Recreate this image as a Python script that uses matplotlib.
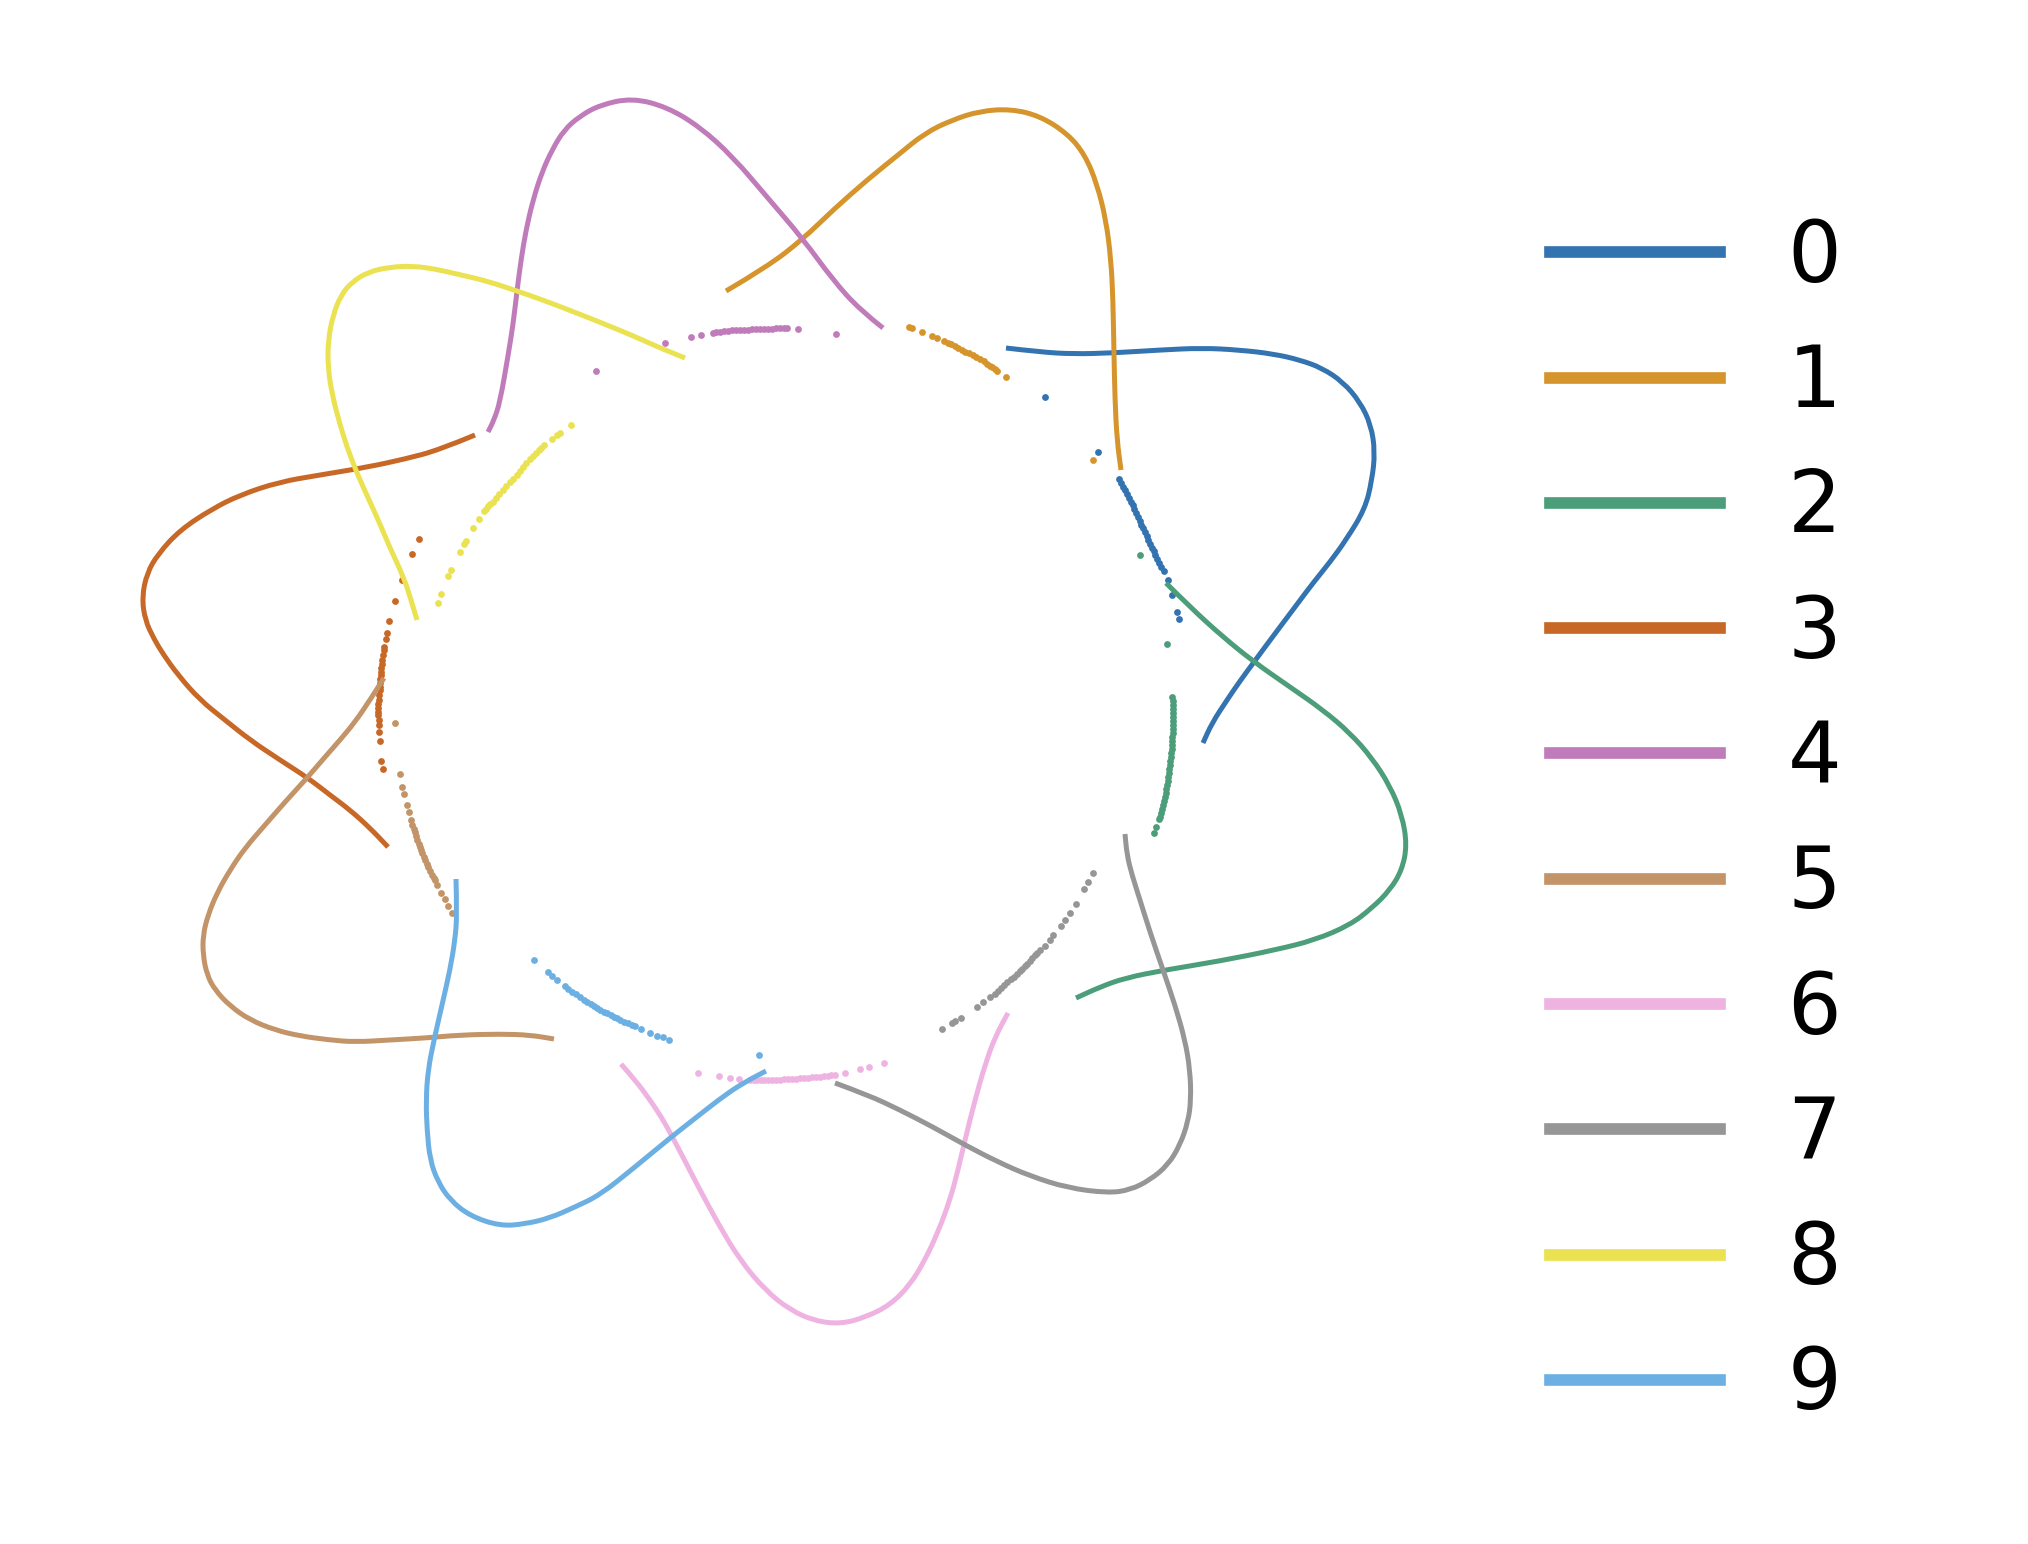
import matplotlib.pyplot as plt
import numpy as np
from matplotlib.path import Path
from matplotlib.patches import PathPatch
from matplotlib.lines import Line2D

# Values (embedding coordinates, image-like y axis)
labels = ["0", "1", "2", "3", "4", "5", "6", "7", "8", "9"]
colors = ["#3373b0", "#d5952c", "#4c9e7a", "#c76826", "#c07cba",
          "#c29468", "#efb3e2", "#969696", "#eae250", "#6cb0e3"]

# trajectory of each class (outer loop)
traj_0 = [(1006, 348), (1040, 352), (1073, 354), (1112, 353), (1160, 350), (1202, 348),
          (1240, 350), (1274, 354), (1300, 360), (1322, 368), (1343, 382), (1360, 402),
          (1371, 425), (1375, 452), (1372, 480), (1365, 509), (1346, 540), (1330, 562),
          (1313, 583), (1298, 603), (1283, 623), (1268, 643), (1254, 662), (1240, 681),
          (1227, 700), (1212, 723), (1203, 743)]
traj_1 = [(726, 291), (767, 267), (803, 239), (833, 210), (867, 180), (898, 155), (925, 133),
          (952, 120), (980, 111), (1011, 109), (1040, 116), (1068, 134), (1085, 155),
          (1097, 184), (1106, 220), (1111, 260), (1113, 300), (1114, 356), (1115, 400),
          (1117, 440), (1121, 470)]
traj_2 = [(1166, 583), (1190, 607), (1223, 637), (1254, 662), (1290, 687), (1323, 710),
          (1350, 733), (1372, 758), (1390, 786), (1402, 815), (1407, 845), (1402, 870),
          (1390, 890), (1372, 908), (1350, 925), (1315, 940), (1275, 950), (1220, 961),
          (1165, 970), (1125, 978), (1100, 987), (1076, 998)]
traj_3 = [(475, 435), (439, 450), (405, 459), (368, 467), (320, 475), (279, 482), (240, 495),
          (212, 509), (180, 530), (158, 554), (147, 573), (142, 597), (145, 620), (154, 639),
          (163, 654), (178, 675), (200, 700), (225, 720), (250, 740), (280, 760), (308, 778),
          (330, 795), (350, 810), (370, 828), (388, 847)]
traj_4 = [(883, 328), (860, 310), (833, 280), (803, 239), (767, 197), (733, 157), (700, 127),
          (667, 107), (632, 98), (600, 105), (580, 116), (564, 130), (552, 150), (542, 172),
          (533, 200), (526, 230), (521, 260), (517, 291), (513, 325), (508, 356), (500, 402),
          (494, 420), (488, 432)]
traj_5 = [(384, 678), (370, 700), (355, 722), (340, 740), (325, 757), (307, 778), (285, 802),
          (265, 825), (245, 848), (230, 870), (217, 893), (208, 915), (203, 935), (203, 955),
          (207, 975), (215, 990), (230, 1006), (250, 1020), (275, 1030), (300, 1036),
          (330, 1040), (355, 1042), (390, 1040), (425, 1038), (460, 1035), (500, 1034),
          (530, 1035), (554, 1039)]
traj_6 = [(621, 1064), (636, 1081), (650, 1100), (662, 1118), (673, 1138), (686, 1163),
          (700, 1190), (720, 1227), (740, 1260), (765, 1290), (790, 1310), (815, 1321),
          (841, 1324), (866, 1317), (890, 1305), (910, 1285), (925, 1260), (938, 1232),
          (950, 1200), (958, 1170), (965, 1140), (975, 1100), (985, 1065), (995, 1037),
          (1008, 1013)]
traj_7 = [(835, 1083), (868, 1095), (900, 1110), (933, 1127), (965, 1145), (998, 1162),
          (1030, 1176), (1068, 1188), (1108, 1193), (1130, 1190), (1150, 1180), (1168, 1165),
          (1180, 1145), (1188, 1122), (1191, 1100), (1190, 1070), (1185, 1040), (1175, 1005),
          (1163, 970), (1150, 932), (1140, 900), (1132, 875), (1127, 855), (1125, 834)]
traj_8 = [(685, 358), (660, 348), (636, 337), (602, 323), (569, 310), (540, 299), (517, 291),
          (487, 281), (457, 274), (435, 269), (413, 266), (390, 267), (368, 272), (352, 282),
          (341, 295), (333, 315), (328, 341), (328, 368), (332, 394), (340, 425), (350, 456),
          (363, 487), (377, 517), (390, 548), (404, 578), (411, 600), (417, 620)]
traj_9 = [(456, 879), (457, 915), (455, 940), (450, 970), (442, 1005), (434, 1040),
          (428, 1070), (426, 1100), (427, 1130), (430, 1160), (438, 1182), (450, 1200),
          (470, 1216), (500, 1226), (525, 1224), (550, 1218), (575, 1207), (600, 1195),
          (635, 1167), (670, 1138), (698, 1116), (725, 1095), (745, 1082), (766, 1071)]

# embedded samples of each class (points on the inner ring)
pts_0 = [(1045, 397), (1098, 452), (1119, 479), (1121, 483), (1123, 487), (1125, 490),
         (1127, 494), (1129, 498), (1131, 502), (1133, 505), (1134, 509), (1136, 513),
         (1138, 517), (1140, 521), (1141, 525), (1143, 528), (1145, 532), (1147, 536),
         (1148, 540), (1150, 544), (1152, 548), (1154, 551), (1155, 555), (1157, 559),
         (1159, 563), (1161, 567), (1164, 571), (1168, 580), (1172, 595), (1177, 612),
         (1179, 619)]
pts_1 = [(909, 327), (912, 328), (922, 332), (932, 336), (937, 338), (944, 341), (948, 343),
         (951, 344), (955, 346), (958, 348), (962, 350), (965, 352), (969, 353), (973, 355),
         (976, 357), (980, 359), (984, 361), (987, 364), (990, 366), (992, 367), (995, 369),
         (997, 371), (1006, 377), (1093, 460)]
pts_2 = [(1140, 555), (1167, 644), (1172, 697), (1173, 701), (1173, 705), (1173, 709),
         (1173, 713), (1173, 717), (1173, 721), (1173, 725), (1173, 729), (1173, 733),
         (1172, 737), (1172, 741), (1172, 745), (1172, 749), (1171, 753), (1171, 757),
         (1170, 761), (1170, 765), (1169, 769), (1169, 773), (1168, 777), (1168, 781),
         (1167, 785), (1166, 789), (1166, 793), (1165, 797), (1164, 801), (1163, 805),
         (1162, 809), (1161, 813), (1160, 817), (1159, 819), (1156, 827), (1154, 833)]
pts_3 = [(419, 539), (412, 554), (402, 580), (395, 601), (389, 621), (387, 633), (386, 639),
         (384, 647), (384, 650), (383, 655), (382, 660), (382, 664), (381, 668), (381, 672),
         (381, 675), (380, 679), (380, 683), (380, 687), (380, 690), (379, 695), (379, 700),
         (378, 704), (378, 708), (378, 712), (378, 715), (379, 720), (379, 725), (379, 732),
         (380, 741), (381, 761), (383, 769)]
pts_4 = [(596, 371), (665, 343), (691, 337), (701, 335), (713, 333), (716, 332), (720, 332),
         (724, 331), (728, 331), (732, 330), (736, 330), (740, 330), (744, 330), (748, 330),
         (752, 329), (756, 329), (760, 329), (764, 329), (768, 329), (772, 329), (776, 328),
         (780, 328), (784, 328), (787, 328), (798, 329), (836, 334)]
pts_5 = [(395, 723), (400, 774), (402, 787), (404, 794), (407, 805), (409, 812), (411, 820),
         (412, 825), (414, 829), (415, 832), (416, 836), (417, 840), (419, 844), (420, 847),
         (421, 850), (422, 853), (424, 857), (425, 860), (427, 864), (428, 867), (430, 871),
         (432, 875), (434, 878), (435, 880), (437, 885), (441, 893), (445, 899), (448, 906),
         (452, 913)]
pts_6 = [(698, 1073), (719, 1076), (730, 1078), (739, 1079), (750, 1080), (754, 1080),
         (757, 1080), (761, 1080), (764, 1080), (768, 1080), (772, 1080), (776, 1080),
         (780, 1080), (784, 1079), (788, 1079), (792, 1079), (796, 1079), (800, 1078),
         (804, 1078), (808, 1078), (812, 1077), (816, 1077), (820, 1077), (824, 1076),
         (828, 1076), (831, 1075), (835, 1075), (845, 1073), (860, 1069), (869, 1067),
         (884, 1063)]
pts_7 = [(1093, 873), (1088, 882), (1084, 889), (1076, 904), (1070, 913), (1065, 920),
         (1061, 926), (1053, 935), (1050, 940), (1045, 946), (1040, 950), (1037, 953),
         (1035, 955), (1032, 958), (1030, 961), (1027, 964), (1025, 966), (1022, 969),
         (1020, 971), (1017, 974), (1014, 977), (1011, 979), (1007, 982), (1004, 985),
         (1001, 988), (998, 991), (995, 994), (990, 997), (983, 1002), (977, 1007),
         (961, 1018), (955, 1021), (952, 1023), (942, 1029)]
pts_8 = [(571, 425), (560, 433), (557, 435), (552, 439), (544, 445), (541, 448), (539, 450),
         (536, 453), (533, 456), (530, 459), (526, 463), (523, 467), (520, 471), (517, 475),
         (513, 479), (510, 482), (506, 486), (503, 490), (499, 494), (496, 498), (493, 502),
         (490, 504), (488, 506), (486, 509), (484, 511), (479, 519), (473, 528), (466, 541),
         (464, 544), (460, 552), (451, 570), (448, 576), (441, 594), (438, 603)]
pts_9 = [(534, 960), (548, 972), (552, 976), (557, 980), (565, 986), (568, 989), (572, 992),
         (576, 994), (580, 997), (584, 1000), (587, 1002), (591, 1004), (594, 1006),
         (597, 1008), (600, 1010), (604, 1012), (607, 1013), (611, 1015), (614, 1017),
         (617, 1018), (620, 1020), (624, 1022), (628, 1023), (632, 1025), (635, 1026),
         (641, 1029), (650, 1033), (657, 1036), (663, 1037), (669, 1040), (759, 1055)]

trajectories = [traj_0, traj_1, traj_2, traj_3, traj_4, traj_5, traj_6, traj_7, traj_8, traj_9]
points = [pts_0, pts_1, pts_2, pts_3, pts_4, pts_5, pts_6, pts_7, pts_8, pts_9]


def smooth_path(xy):
    # quadratic bezier chain through the read points, so the loops render smoothly
    verts = [xy[0]]
    codes = [Path.MOVETO]
    for i in range(1, len(xy) - 1):
        verts += [xy[i], (xy[i] + xy[i + 1]) / 2]
        codes += [Path.CURVE3, Path.CURVE3]
    verts.append(xy[-1])
    codes.append(Path.LINETO)
    return Path(verts, codes)


fig = plt.figure(figsize=(10.14, 7.72), dpi=200)
ax = fig.add_axes([0, 0, 1, 1])

handles = []
for lab, col, tr, pt in zip(labels, colors, trajectories, points):
    tr = np.array(tr, dtype=float)
    pt = np.array(pt, dtype=float)
    ax.add_patch(PathPatch(smooth_path(tr), facecolor="none", edgecolor=col,
                           linewidth=1.8, capstyle="butt"))
    ax.scatter(pt[:, 0], pt[:, 1], color=col, s=6, linewidths=0)
    handles.append(Line2D([], [], color=col, linewidth=4.2, label=lab))

ax.set_xlim(0, 2028)
ax.set_ylim(1544, 0)
ax.axis("off")

ax.legend(handles=handles, loc="center left", bbox_to_anchor=(0.727, 0.4675),
          bbox_transform=fig.transFigure, frameon=False, fontsize=30.45,
          handlelength=2.0)

fig.savefig("out.png", dpi=200)
